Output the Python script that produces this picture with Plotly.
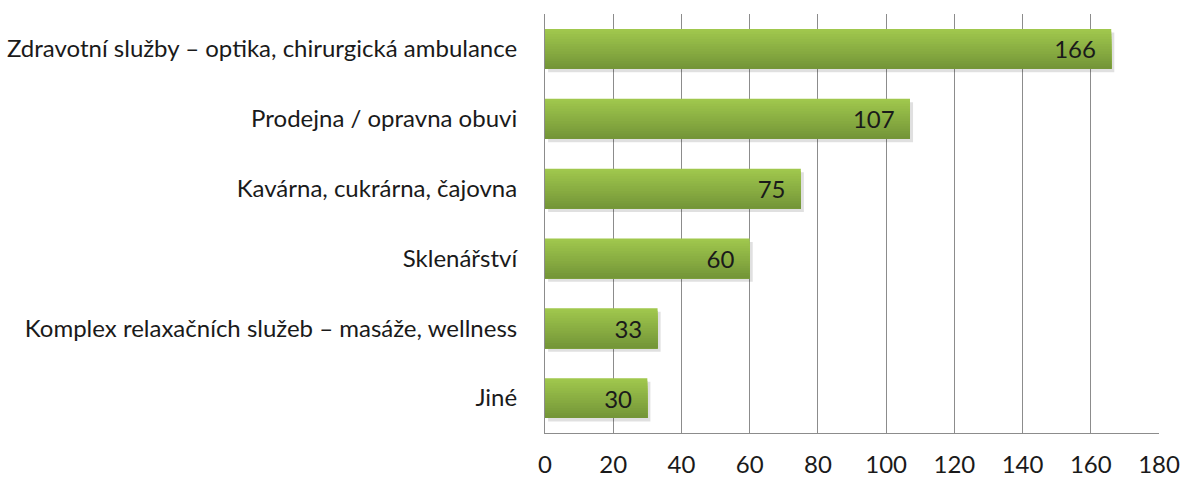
import plotly.graph_objects as go

categories = [
    "Zdravotní služby – optika, chirurgická ambulance",
    "Prodejna / opravna obuvi",
    "Kavárna, cukrárna, čajovna",
    "Sklenářství",
    "Komplex relaxačních služeb – masáže, wellness",
    "Jiné",
]
values = [166, 107, 75, 60, 33, 30]
x_ticks = [0, 20, 40, 60, 80, 100, 120, 140, 160, 180]

FONT = "Lato"
FS = 24
bar_w = 0.57
n_strips = 16
top_rgb = (160, 199, 77)
bot_rgb = (116, 150, 56)

fig = go.Figure()

# shadow
fig.add_trace(go.Bar(
    y=categories, x=values, orientation="h",
    width=bar_w, offset=-bar_w / 2 + 0.05,
    base=[0.9] * len(values),
    marker=dict(color="rgba(0,0,0,0.12)", line=dict(width=0)),
    hoverinfo="skip", showlegend=False,
))

# gradient strips (each covers from its start to the bar bottom, later on top)
sw = bar_w / n_strips
for i in range(n_strips):
    t = i / (n_strips - 1)
    c = tuple(round(top_rgb[k] + (bot_rgb[k] - top_rgb[k]) * t) for k in range(3))
    fig.add_trace(go.Bar(
        y=categories, x=values, orientation="h",
        width=bar_w - i * sw, offset=-bar_w / 2 + i * sw,
        marker=dict(color=f"rgb{c}", line=dict(width=0)),
        hoverinfo="skip", showlegend=False,
    ))

# labels
fig.add_trace(go.Bar(
    y=categories, x=values, orientation="h",
    width=bar_w, offset=-bar_w / 2,
    marker=dict(color="rgba(0,0,0,0)", line=dict(width=0)),
    text=[str(v) for v in values], texttemplate="%{text}  ",
    textposition="inside",
    insidetextanchor="end", textangle=0,
    textfont=dict(family=FONT, size=FS, color="#1a1a1a"),
    cliponaxis=False, showlegend=False,
))

fig.update_layout(
    barmode="overlay",
    width=1181, height=478,
    margin=dict(l=545, r=22, t=14, b=45, autoexpand=False),
    paper_bgcolor="white", plot_bgcolor="white",
    font=dict(family=FONT, size=FS, color="#1a1a1a"),
    uniformtext=dict(mode=False),
)
fig.update_xaxes(
    range=[0, 180], tickvals=x_ticks, ticktext=[str(v) for v in x_ticks],
    showgrid=True, gridcolor="#8c8c8c", gridwidth=1,
    showline=True, linecolor="#8c8c8c", linewidth=1,
    ticks="", zeroline=False, ticklabelstandoff=10, automargin=False,
    tickfont=dict(family=FONT, size=FS, color="#1a1a1a"),
)
fig.update_yaxes(
    autorange="reversed",
    showgrid=False, showline=True, linecolor="#8c8c8c", linewidth=1,
    ticks="", ticklabelstandoff=22, automargin=False,
    tickfont=dict(family=FONT, size=FS, color="#1a1a1a"),
)

fig.write_html(
    "out.html",
    config={"displayModeBar": False},
    post_script="document.body.style.margin='0';document.body.style.overflow='hidden';",
)
